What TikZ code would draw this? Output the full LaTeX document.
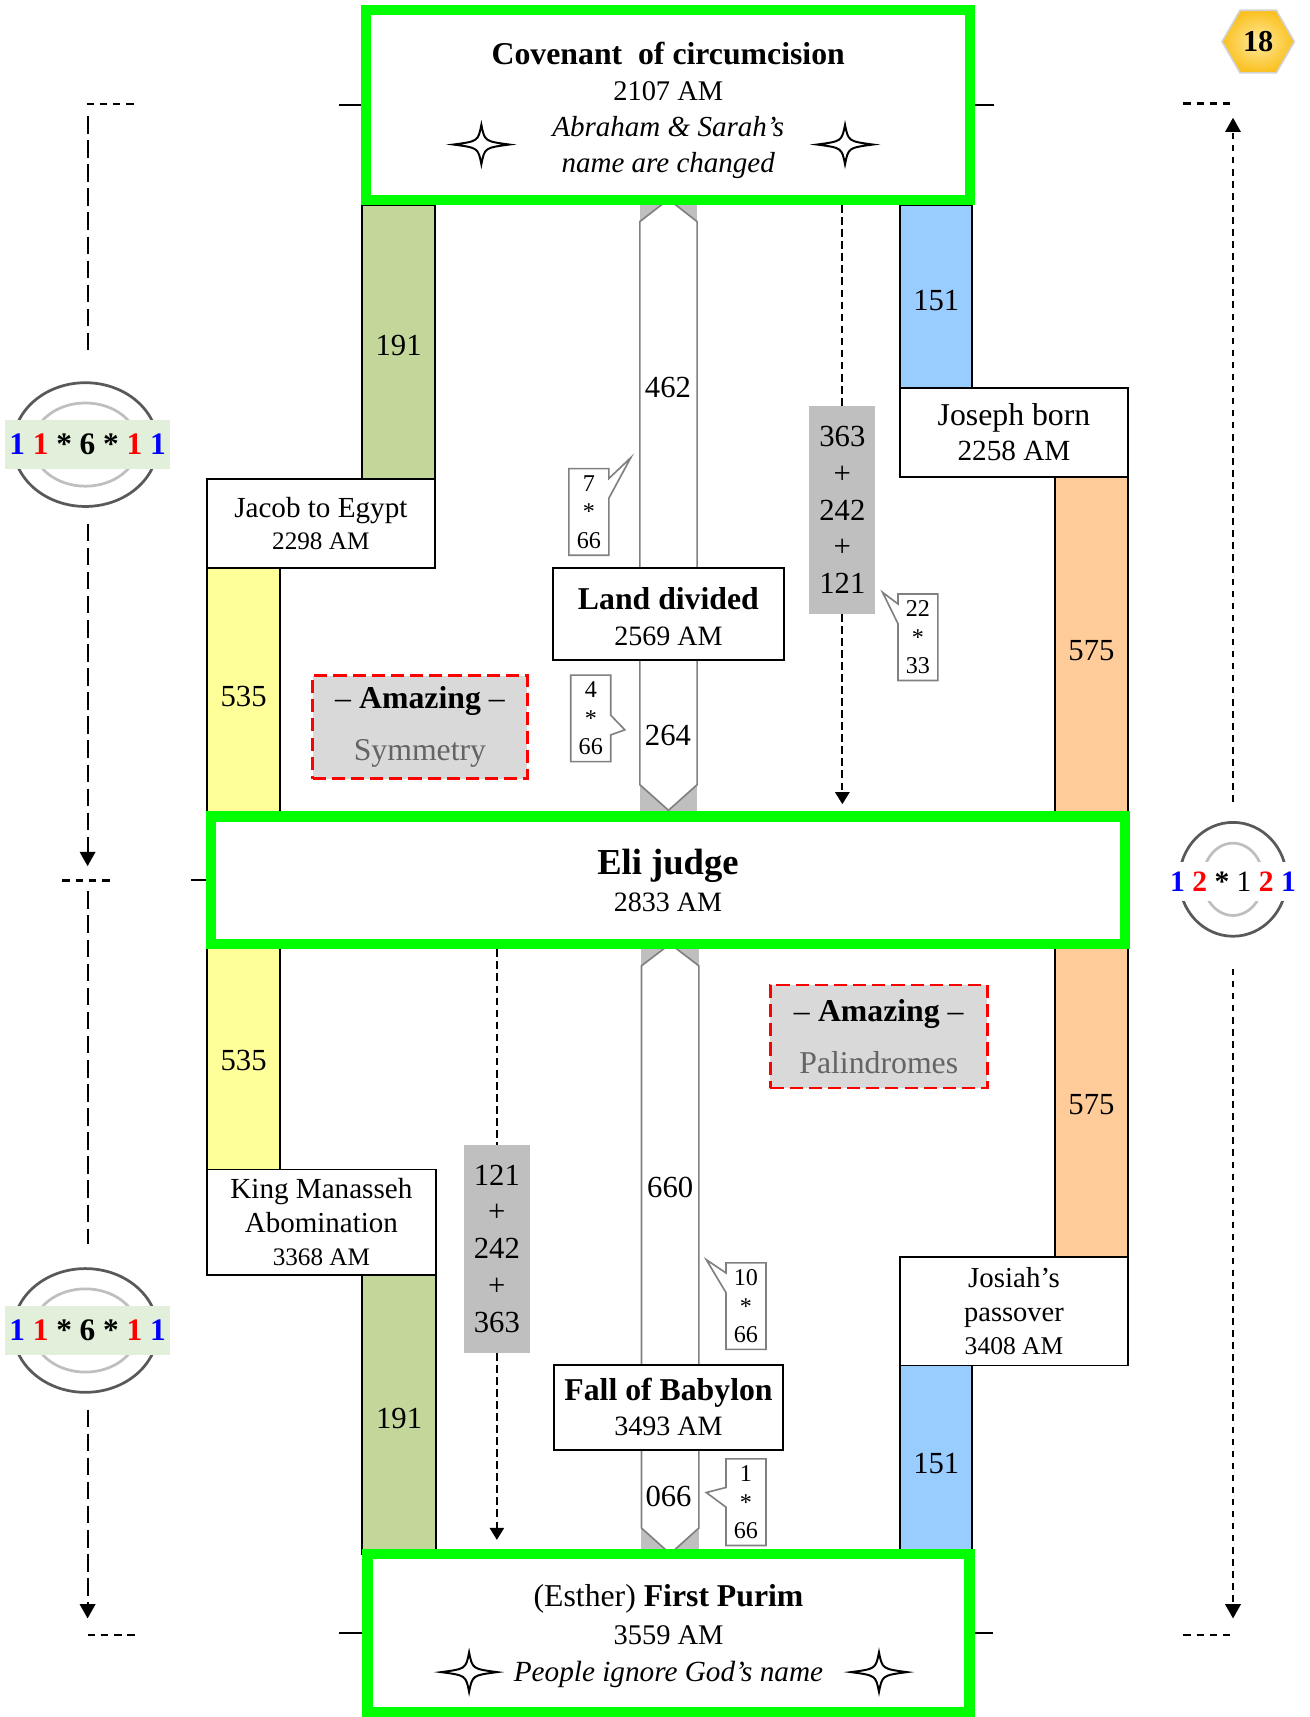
\documentclass[tikz,border=0pt]{standalone}
\usepackage{fontspec}
\setmainfont{Liberation Serif}
\usetikzlibrary{positioning, arrows.meta, shapes.geometric, shapes.callouts}

\definecolor{eragreen}{RGB}{0,255,0}
\definecolor{barolive}{RGB}{196,215,155}
\definecolor{baryellow}{RGB}{255,255,153}
\definecolor{barblue}{RGB}{153,204,255}
\definecolor{barorange}{RGB}{255,204,153}
\definecolor{sumgray}{RGB}{191,191,191}
\definecolor{edgegray}{RGB}{128,128,128}
\definecolor{amazefill}{RGB}{217,217,217}
\definecolor{softtext}{RGB}{100,100,100}
\definecolor{badgefill}{RGB}{226,239,218}
\definecolor{ringdark}{RGB}{89,89,89}
\definecolor{ringlight}{RGB}{191,191,191}
\definecolor{hexin}{RGB}{255,235,160}
\definecolor{hexout}{RGB}{250,192,30}

\newcommand{\setfs}[2]{\fontsize{#1}{#2}\selectfont}

\begin{document}
\begin{tikzpicture}[
    x=1pt, y=-1pt,
    erabox/.style={draw=eragreen, line width=9.5pt, fill=white, align=center, inner sep=0pt},
    eventbox/.style={draw, line width=1.8pt, fill=white, align=center, inner sep=0pt},
    yearbar/.style={draw, line width=1.8pt, inner sep=0pt, text height=26pt, font=\setfs{28}{30}},
    sumbox/.style={fill=sumgray, align=center, inner sep=0pt, minimum width=60.5, minimum height=189.5, font=\setfs{28}{33.7}},
    spanarrow/.style={draw=edgegray, line width=1.5pt, fill=white},
    spanend/.style={fill=sumgray},
    spanlabel/.style={font=\setfs{28}{30}, inner sep=0pt},
    hint/.style={rectangle callout, draw=edgegray, line width=1.5pt, fill=white, align=center, inner sep=0pt,
        minimum width=36.5, minimum height=79, callout pointer width=18, font=\setfs{22}{26}},
    amazebox/.style={draw=red, dash pattern=on 12pt off 5.5pt, line width=2.5pt, fill=amazefill, align=center,
        inner sep=0pt, minimum width=196, minimum height=94, font=\setfs{29}{47.5}},
    sumline/.style={dash pattern=on 7pt off 4pt, line width=2pt},
    sumtip/.style={-{Triangle[width=13pt, length=11pt]}},
    leftline/.style={dash pattern=on 16pt off 6pt, line width=2pt},
    rightline/.style={dash pattern=on 6pt off 5pt, line width=2pt},
    stubline/.style={dash pattern=on 7pt off 5pt, line width=2pt},
    headtip/.style={-{Triangle[width=14pt, length=13pt]}},
    stubtick/.style={line width=1.8pt},
    badge/.style={fill=badgefill, inner sep=0pt, minimum width=151, minimum height=44, font=\setfs{28.6}{30}\bfseries},
    ring/.style={line width=2.5pt},
    sparkle/.pic={
        \draw[line width=1.8pt, fill=white] (-25.5,0) .. controls (-3,-3) .. (0,-18) .. controls (3,-3) .. (25.5,0)
            .. controls (3,3) .. (0,18) .. controls (-3,3) .. (-25.5,0) -- cycle;
    }
]
\useasboundingbox (0,0) rectangle (1196,1568);

% Block arrows in the middle
\fill[spanend] (584.3,182) rectangle (636.6,205);
\fill[spanend] (584.3,709) rectangle (636.6,741);
\draw[spanarrow] (584.3,202.4) -- (610.5,182) -- (636.6,202.4) -- (636.6,716.6) -- (610.5,740) -- (584.3,716.6) -- cycle;
\fill[spanend] (585.8,860) rectangle (638.2,885);
\fill[spanend] (585.8,1386) rectangle (638.2,1419);
\draw[spanarrow] (585.8,882) -- (612,862) -- (638.2,882) -- (638.2,1395.4) -- (612,1419) -- (585.8,1395.4) -- cycle;

\node[spanlabel] (n462) at (610,354) {462};
\node[spanlabel] (n264) at (610,672) {264};
\node[spanlabel] (n660) at (612,1084) {660};
\node[spanlabel] (n066) at (610.5,1366.5) {066};

% Coloured bars
\node[yearbar, fill=barolive, minimum width=66, minimum height=250] (olive1) at (364,312) {191};
\node[yearbar, fill=baryellow, minimum width=67, minimum height=226] (yellow1) at (222.5,632) {535};
\node[yearbar, fill=barblue, minimum width=66, minimum height=167] (blue1) at (855,270.5) {151};
\node[yearbar, fill=barorange, minimum width=66.5, minimum height=309] (orange1) at (996.75,590.5) {575};
\node[yearbar, fill=baryellow, minimum width=67, minimum height=206] (yellow2) at (222.5,965) {535};
\node[yearbar, fill=barolive, minimum width=67, minimum height=255] (olive2) at (364.5,1291.5) {191};
\node[yearbar, fill=barorange, minimum width=66.5, minimum height=286] (orange2) at (996.75,1005) {575};
\node[yearbar, fill=barblue, minimum width=66, minimum height=172] (blue2) at (855,1333) {151};

% Events
\node[eventbox, minimum width=208, minimum height=82, font=\setfs{23}{29}] (jacob) at (293,478)
    {{\setfs{26.6}{29}Jacob to Egypt}\\2298 AM};
\node[eventbox, minimum width=208, minimum height=82, font=\setfs{26.7}{32}] (joseph) at (926,395)
    {{\setfs{29}{32}Joseph born}\\2258 AM};
\node[eventbox, minimum width=210.8, minimum height=84.3, font=\setfs{25.6}{33}] (land) at (610.4,560.5)
    {\rule{0pt}{25pt}{\setfs{29}{33}\bfseries Land divided}\\2569 AM};
\node[eventbox, minimum width=209, minimum height=96, font=\setfs{23}{30.5}] (manasseh) at (293.5,1116)
    {{\setfs{26.6}{30.5}King Manasseh}\\{\setfs{26.5}{30.5}Abomination}\\3368 AM};
\node[eventbox, minimum width=208, minimum height=99, font=\setfs{23.3}{30.5}] (josiah) at (926,1197.5)
    {{\setfs{26.4}{30.5}Josiah's}\\{\setfs{26}{30.5}passover}\\3408 AM};
\node[eventbox, minimum width=209.4, minimum height=77.6, font=\setfs{25.6}{32}] (fall) at (610.5,1285)
    {{\setfs{29}{32}\bfseries Fall of Babylon}\\3493 AM};

% Green frames
\node[erabox, minimum width=551.5, minimum height=173.3, font=\setfs{26}{33}] (cov) at (610.25,96)
    {\rule{0pt}{30pt}{\setfs{29}{33}\bfseries Covenant\ \ of circumcision}\\2107 AM\\
     {\itshape\setfs{26.5}{33}Abraham \& Sarah's}\\{\itshape\setfs{26.5}{33}name are changed}};
\node[erabox, minimum width=834.5, minimum height=116.5, font=\setfs{25.6}{34}] (eli) at (610,804)
    {{\setfs{33.4}{34}\bfseries Eli judge}\\2833 AM};
\node[erabox, minimum width=550, minimum height=144.5, font=\setfs{26}{34.5}] (purim) at (610.5,1491.25)
    {\rule{0pt}{26pt}{\setfs{29}{34.5}(Esther) \textbf{First Purim}}\\3559 AM\\{\itshape\setfs{26.7}{34.5}People ignore God's name}};

\pic at (439.6,132) {sparkle};
\pic at (771.7,132) {sparkle};
\pic at (428.4,1527) {sparkle};
\pic at (802.7,1527) {sparkle};

\draw[stubtick] (cov.west) -- ++(-20,0);
\draw[stubtick] (cov.east) -- ++(17,0);
\draw[stubtick] (eli.west) -- ++(-14,0);
\draw[stubtick] (purim.west) -- ++(-21,0);
\draw[stubtick] (purim.east) -- ++(17,0);

% Sums
\node[sumbox] (sumup) at (769.25,465.65) {363\\+\\242\\+\\121};
\draw[sumline] (cov.south -| sumup) -- (sumup);
\draw[sumline, sumtip, shorten >=6.6pt] (sumup) -- (eli.north -| sumup);
\node[sumbox] (sumdown) at (453.75,1140.5) {121\\+\\242\\+\\363};
\draw[sumline] (eli.south -| sumdown) -- (sumdown);
\draw[sumline, sumtip, shorten >=8pt] (sumdown) -- (purim.north -| sumdown);

% Callouts
\node[hint, callout absolute pointer={(576,418)}] (c7) at (537.75,467.5) {7\\*\\66};
\node[hint, callout absolute pointer={(570.6,666.5)}] (c4) at (539.5,656) {4\\*\\66};
\node[hint, callout absolute pointer={(806,541)}] (c22) at (838.25,582) {22\\*\\33};
\node[hint, callout absolute pointer={(645,1150.4)}] (c10) at (681.25,1192.8) {10\\*\\66};
\node[hint, callout absolute pointer={(645,1363)}] (c1) at (681.25,1371.8) {1\\*\\66};

% Amazing notes
\node[amazebox] (sym) at (383.5,664) {-- \textbf{Amazing} --\\\textcolor{softtext}{Symmetry}};
\node[amazebox, minimum width=198] (pal) at (802.5,946.5) {-- \textbf{Amazing} --\\\textcolor{softtext}{Palindromes}};

% Left side
\draw[ringdark, ring] (78,406) ellipse [x radius=66, y radius=56.5];
\draw[ringlight, ring] (78,406) ellipse [x radius=48, y radius=38];
\node[badge] (lb1) at (80,406) {\textcolor{blue}{1} \textcolor{red}{1} * 6 * \textcolor{red}{1} \textcolor{blue}{1}};
\draw[ringdark, ring] (78,1215) ellipse [x radius=66, y radius=56.5];
\draw[ringlight, ring] (78,1215) ellipse [x radius=48, y radius=38];
\node[badge] (lb2) at (80,1215) {\textcolor{blue}{1} \textcolor{red}{1} * 6 * \textcolor{red}{1} \textcolor{blue}{1}};

\coordinate (lstart) at (80,106);
\coordinate (lmid) at (80,791);
\coordinate (lresume) at (80,814);
\coordinate (lend) at (80,1478);
\draw[stubline] (79,95) -- (124,95);
\draw[leftline, shorten >=61pt] (lstart) -- (lb1);
\draw[leftline, headtip, shorten <=50pt] (lb1) -- (lmid);
\draw[stubline] (57,804) -- (102,804);
\draw[leftline, shorten >=57pt] (lresume) -- (lb2);
\draw[leftline, headtip, shorten <=50pt] (lb2) -- (lend);
\draw[stubline] (80,1493) -- (124,1493);

% Right side
\draw[ringdark, ring] (1126,803) ellipse [x radius=49, y radius=52];
\draw[ringlight, ring] (1126,803) ellipse [x radius=27.5, y radius=33];
\node[fill=white, inner sep=2pt, minimum height=35, font=\setfs{27}{30}\bfseries] (rb) at (1126,805)
    {\textcolor{blue}{1} \textcolor{red}{2} * {\mdseries 1} \textcolor{red}{2} \textcolor{blue}{1}};

\coordinate (rtop) at (1126,107.5);
\coordinate (rbot) at (1126,1478);
\draw[stubline] (1080.7,94.6) -- (1125.7,94.6);
\draw[rightline, headtip, shorten <=55pt] (rb) -- (rtop);
\draw[rightline, headtip, shorten <=62pt] (rb) -- (rbot);
\draw[stubline] (1080.7,1493) -- (1125.7,1493);

% Page number
\node[regular polygon, regular polygon sides=6, minimum size=66, inner sep=0pt, draw=gray!35, line width=1.5pt,
    inner color=hexin, outer color=hexout, font=\setfs{27.7}{30}\bfseries] (page) at (1149,38) {18};

\end{tikzpicture}
\end{document}
